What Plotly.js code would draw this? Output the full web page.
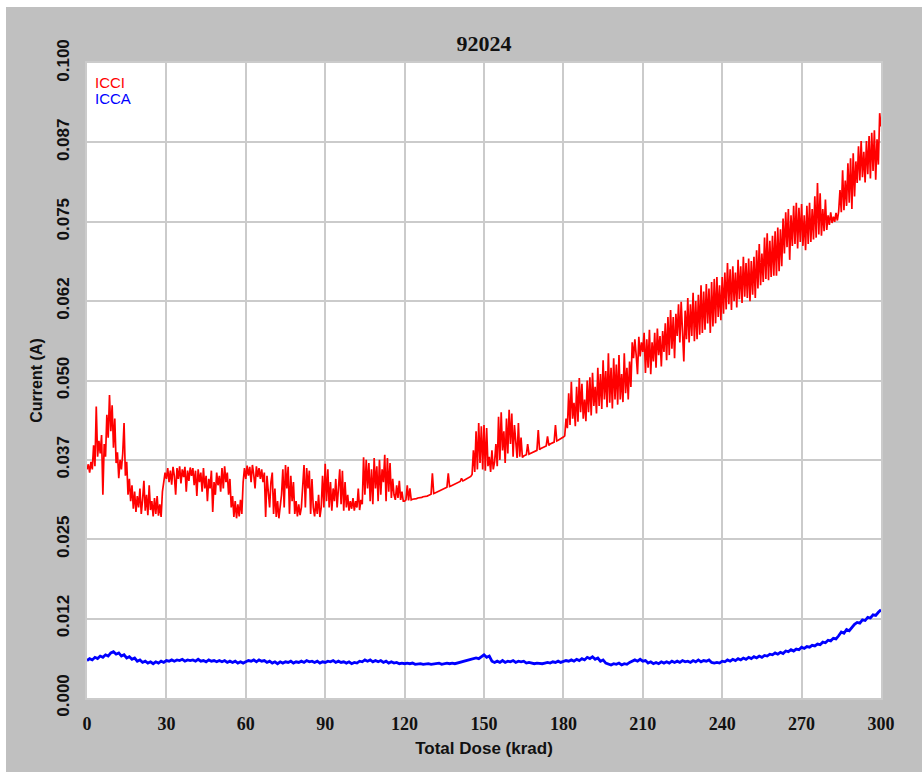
<!DOCTYPE html>
<html>
<head>
<meta charset="utf-8">
<script src="https://cdn.plot.ly/plotly-3.0.1.min.js"></script>
<style>
  html, body { margin: 0; padding: 0; background: #ffffff; width: 922px; height: 772px; overflow: hidden; }
  #chart { position: absolute; left: 6px; top: 7px; width: 916px; height: 765px; }
</style>
</head>
<body>
<div id="chart"></div>
<script>
// ICCI (A), sampled every 0.5 krad from 0 to 300
const icciStep = 0.5;
const icci = [
  0.0360, 0.0368, 0.0355, 0.0372, 0.0360, 0.0398, 0.0365, 0.0459, 0.0380, 0.0405,
  0.0385, 0.0414, 0.0320, 0.0400, 0.0380, 0.0446, 0.0410, 0.0477, 0.0420, 0.0461,
  0.0394, 0.0440, 0.0370, 0.0387, 0.0346, 0.0375, 0.0360, 0.0385, 0.0433, 0.0350,
  0.0372, 0.0320, 0.0345, 0.0310, 0.0335, 0.0298, 0.0325, 0.0293, 0.0318, 0.0300,
  0.0330, 0.0290, 0.0312, 0.0342, 0.0295, 0.0320, 0.0288, 0.0335, 0.0296, 0.0310,
  0.0286, 0.0315, 0.0290, 0.0318, 0.0287, 0.0305, 0.0285, 0.0325, 0.0340, 0.0355,
  0.0345, 0.0362, 0.0340, 0.0358, 0.0336, 0.0364, 0.0350, 0.0320, 0.0362, 0.0345,
  0.0365, 0.0338, 0.0360, 0.0348, 0.0364, 0.0325, 0.0358, 0.0342, 0.0363, 0.0350,
  0.0362, 0.0335, 0.0358, 0.0318, 0.0360, 0.0340, 0.0355, 0.0325, 0.0362, 0.0330,
  0.0350, 0.0310, 0.0345, 0.0330, 0.0358, 0.0293, 0.0340, 0.0320, 0.0355, 0.0335,
  0.0350, 0.0325, 0.0362, 0.0330, 0.0365, 0.0340, 0.0355, 0.0320, 0.0345, 0.0300,
  0.0318, 0.0285, 0.0310, 0.0283, 0.0305, 0.0286, 0.0312, 0.0290, 0.0340, 0.0362,
  0.0345, 0.0366, 0.0350, 0.0364, 0.0340, 0.0367, 0.0352, 0.0330, 0.0365, 0.0348,
  0.0362, 0.0345, 0.0360, 0.0340, 0.0355, 0.0285, 0.0350, 0.0320, 0.0300, 0.0340,
  0.0355, 0.0290, 0.0330, 0.0285, 0.0310, 0.0283, 0.0300, 0.0320, 0.0360, 0.0300,
  0.0367, 0.0330, 0.0364, 0.0290, 0.0350, 0.0310, 0.0340, 0.0290, 0.0310, 0.0286,
  0.0305, 0.0288, 0.0300, 0.0330, 0.0367, 0.0300, 0.0362, 0.0330, 0.0358, 0.0290,
  0.0345, 0.0300, 0.0286, 0.0310, 0.0290, 0.0320, 0.0285, 0.0300, 0.0350, 0.0300,
  0.0369, 0.0310, 0.0360, 0.0300, 0.0340, 0.0295, 0.0330, 0.0310, 0.0345, 0.0300,
  0.0325, 0.0360, 0.0305, 0.0358, 0.0295, 0.0340, 0.0300, 0.0320, 0.0295, 0.0310,
  0.0298, 0.0315, 0.0295, 0.0310, 0.0300, 0.0330, 0.0296, 0.0312, 0.0305, 0.0379,
  0.0320, 0.0375, 0.0330, 0.0370, 0.0310, 0.0360, 0.0305, 0.0378, 0.0330, 0.0365,
  0.0310, 0.0375, 0.0320, 0.0360, 0.0340, 0.0383, 0.0310, 0.0378, 0.0325, 0.0370,
  0.0315, 0.0345, 0.0320, 0.0312, 0.0335, 0.0315, 0.0342, 0.0312, 0.0325, 0.0310,
  0.0310, 0.0312, 0.0335, 0.0311, 0.0330, 0.0312, 0.0313, 0.0313, 0.0314, 0.0314,
  0.0315, 0.0315, 0.0316, 0.0316, 0.0317, 0.0317, 0.0318, 0.0318, 0.0319, 0.0320,
  0.0321, 0.0354, 0.0322, 0.0323, 0.0324, 0.0325, 0.0326, 0.0327, 0.0328, 0.0329,
  0.0330, 0.0331, 0.0332, 0.0354, 0.0333, 0.0334, 0.0335, 0.0336, 0.0337, 0.0338,
  0.0339, 0.0340, 0.0341, 0.0346, 0.0342, 0.0343, 0.0344, 0.0345, 0.0346, 0.0348,
  0.0349, 0.0352, 0.0390, 0.0356, 0.0420, 0.0360, 0.0433, 0.0370, 0.0428, 0.0360,
  0.0430, 0.0358, 0.0425, 0.0365, 0.0380, 0.0356, 0.0390, 0.0360, 0.0372, 0.0400,
  0.0365, 0.0443, 0.0375, 0.0450, 0.0390, 0.0420, 0.0370, 0.0440, 0.0385, 0.0454,
  0.0400, 0.0448, 0.0380, 0.0430, 0.0395, 0.0378, 0.0433, 0.0380, 0.0410, 0.0379,
  0.0381, 0.0382, 0.0383, 0.0400, 0.0384, 0.0385, 0.0386, 0.0387, 0.0388, 0.0389,
  0.0390, 0.0422, 0.0391, 0.0393, 0.0394, 0.0395, 0.0396, 0.0397, 0.0412, 0.0398,
  0.0400, 0.0401, 0.0402, 0.0403, 0.0430, 0.0405, 0.0406, 0.0407, 0.0409, 0.0410,
  0.0411, 0.0413, 0.0440, 0.0425, 0.0480, 0.0430, 0.0498, 0.0440, 0.0465, 0.0428,
  0.0490, 0.0435, 0.0504, 0.0450, 0.0495, 0.0440, 0.0470, 0.0436, 0.0500, 0.0450,
  0.0505, 0.0445, 0.0512, 0.0460, 0.0490, 0.0448, 0.0520, 0.0460, 0.0510, 0.0455,
  0.0532, 0.0470, 0.0515, 0.0458, 0.0543, 0.0465, 0.0520, 0.0456, 0.0535, 0.0470,
  0.0525, 0.0462, 0.0540, 0.0470, 0.0510, 0.0466, 0.0543, 0.0480, 0.0520, 0.0470,
  0.0530, 0.0490, 0.0560, 0.0535, 0.0565, 0.0540, 0.0510, 0.0569, 0.0538, 0.0560,
  0.0545, 0.0575, 0.0512, 0.0565, 0.0520, 0.0580, 0.0510, 0.0560, 0.0530, 0.0575,
  0.0520, 0.0582, 0.0540, 0.0570, 0.0522, 0.0578, 0.0545, 0.0590, 0.0532, 0.0600,
  0.0540, 0.0611, 0.0550, 0.0600, 0.0535, 0.0605, 0.0570, 0.0620, 0.0560, 0.0624,
  0.0575, 0.0530, 0.0610, 0.0565, 0.0630, 0.0560, 0.0620, 0.0570, 0.0638, 0.0562,
  0.0625, 0.0565, 0.0635, 0.0572, 0.0650, 0.0575, 0.0640, 0.0580, 0.0652, 0.0590,
  0.0645, 0.0575, 0.0655, 0.0585, 0.0660, 0.0590, 0.0663, 0.0600, 0.0650, 0.0595,
  0.0663, 0.0605, 0.0670, 0.0612, 0.0685, 0.0620, 0.0675, 0.0611, 0.0680, 0.0625,
  0.0670, 0.0615, 0.0690, 0.0628, 0.0680, 0.0622, 0.0695, 0.0632, 0.0685, 0.0630,
  0.0692, 0.0625, 0.0688, 0.0635, 0.0695, 0.0630, 0.0705, 0.0645, 0.0715, 0.0650,
  0.0700, 0.0655, 0.0725, 0.0660, 0.0732, 0.0658, 0.0720, 0.0663, 0.0728, 0.0665,
  0.0735, 0.0665, 0.0741, 0.0672, 0.0738, 0.0680, 0.0755, 0.0700, 0.0765, 0.0710,
  0.0770, 0.0690, 0.0760, 0.0712, 0.0775, 0.0715, 0.0780, 0.0708, 0.0772, 0.0718,
  0.0778, 0.0712, 0.0760, 0.0705, 0.0775, 0.0715, 0.0780, 0.0718, 0.0770, 0.0722,
  0.0790, 0.0725, 0.0811, 0.0730, 0.0795, 0.0728, 0.0770, 0.0735, 0.0785, 0.0737,
  0.0760, 0.0745, 0.0765, 0.0748, 0.0758, 0.0750, 0.0764, 0.0752, 0.0766, 0.0800,
  0.0765, 0.0831, 0.0768, 0.0815, 0.0775, 0.0842, 0.0780, 0.0850, 0.0770, 0.0858,
  0.0790, 0.0845, 0.0811, 0.0869, 0.0815, 0.0877, 0.0820, 0.0860, 0.0812, 0.0877,
  0.0825, 0.0885, 0.0818, 0.0890, 0.0830, 0.0894, 0.0816, 0.0880, 0.0840, 0.0921,
  0.0900
];

// ICCA (A), sampled every 1 krad from 0 to 300
const iccaStep = 1;
const icca = [
  0.0059, 0.0062, 0.0060, 0.0064, 0.0062, 0.0066, 0.0064, 0.0068, 0.0066, 0.0071,
  0.0073, 0.0069, 0.0071, 0.0066, 0.0068, 0.0063, 0.0065, 0.0061, 0.0063, 0.0058,
  0.0060, 0.0056, 0.0058, 0.0055, 0.0057, 0.0054, 0.0057, 0.0055, 0.0058, 0.0056,
  0.0059, 0.0058, 0.0060, 0.0058, 0.0060, 0.0059, 0.0061, 0.0058, 0.0060, 0.0059,
  0.0060, 0.0058, 0.0061, 0.0058, 0.0059, 0.0057, 0.0060, 0.0058, 0.0059, 0.0057,
  0.0059, 0.0057, 0.0059, 0.0056, 0.0058, 0.0056, 0.0058, 0.0055, 0.0057, 0.0055,
  0.0057, 0.0059, 0.0058, 0.0060, 0.0057, 0.0060, 0.0058, 0.0059, 0.0056, 0.0058,
  0.0055, 0.0057, 0.0054, 0.0057, 0.0055, 0.0057, 0.0056, 0.0058, 0.0055, 0.0057,
  0.0056, 0.0058, 0.0056, 0.0059, 0.0057, 0.0058, 0.0056, 0.0058, 0.0055, 0.0057,
  0.0056, 0.0058, 0.0057, 0.0059, 0.0056, 0.0058, 0.0056, 0.0057, 0.0055, 0.0057,
  0.0054, 0.0056, 0.0055, 0.0058, 0.0057, 0.0060, 0.0058, 0.0060, 0.0057, 0.0059,
  0.0057, 0.0059, 0.0056, 0.0058, 0.0055, 0.0057, 0.0055, 0.0056, 0.0054, 0.0055,
  0.0054, 0.0055, 0.0054, 0.0055, 0.0053, 0.0054, 0.0054, 0.0053, 0.0054, 0.0054,
  0.0053, 0.0054, 0.0054, 0.0055, 0.0053, 0.0054, 0.0055, 0.0054, 0.0055, 0.0054,
  0.0055, 0.0056, 0.0057, 0.0058, 0.0059, 0.0060, 0.0061, 0.0063, 0.0062, 0.0065,
  0.0068, 0.0064, 0.0066, 0.0058, 0.0056, 0.0058, 0.0056, 0.0059, 0.0056, 0.0058,
  0.0057, 0.0059, 0.0056, 0.0058, 0.0057, 0.0058, 0.0055, 0.0056, 0.0055, 0.0054,
  0.0055, 0.0054, 0.0054, 0.0055, 0.0056, 0.0055, 0.0057, 0.0056, 0.0058, 0.0056,
  0.0057, 0.0059, 0.0058, 0.0060, 0.0058, 0.0061, 0.0059, 0.0062, 0.0060, 0.0064,
  0.0062, 0.0065, 0.0061, 0.0063, 0.0058, 0.0060, 0.0055, 0.0054, 0.0052, 0.0054,
  0.0053, 0.0055, 0.0052, 0.0054, 0.0053, 0.0056, 0.0058, 0.0060, 0.0058, 0.0061,
  0.0058, 0.0059, 0.0055, 0.0057, 0.0054, 0.0056, 0.0054, 0.0057, 0.0055, 0.0057,
  0.0055, 0.0058, 0.0056, 0.0058, 0.0056, 0.0059, 0.0057, 0.0058, 0.0056, 0.0059,
  0.0057, 0.0060, 0.0057, 0.0059, 0.0058, 0.0060, 0.0056, 0.0055, 0.0056, 0.0055,
  0.0058, 0.0057, 0.0060, 0.0058, 0.0061, 0.0059, 0.0062, 0.0060, 0.0063, 0.0061,
  0.0064, 0.0062, 0.0065, 0.0063, 0.0066, 0.0064, 0.0067, 0.0066, 0.0069, 0.0068,
  0.0071, 0.0069, 0.0072, 0.0070, 0.0074, 0.0073, 0.0076, 0.0074, 0.0077, 0.0076,
  0.0080, 0.0078, 0.0081, 0.0080, 0.0083, 0.0082, 0.0085, 0.0084, 0.0088, 0.0087,
  0.0091, 0.0090, 0.0094, 0.0093, 0.0098, 0.0104, 0.0102, 0.0108, 0.0106, 0.0112,
  0.0116, 0.0119, 0.0118, 0.0123, 0.0122, 0.0127, 0.0126, 0.0131, 0.0130, 0.0135,
  0.0139
];

const xTickVals = [0, 30, 60, 90, 120, 150, 180, 210, 240, 270, 300];
const yTickVals = [0, 0.0125, 0.025, 0.0375, 0.05, 0.0625, 0.075, 0.0875, 0.1];
const yTickText = ['0.000', '0.012', '0.025', '0.037', '0.050', '0.062', '0.075', '0.087', '0.100'];

const icciX = icci.map((_, i) => i * icciStep);
const iccaX = icca.map((_, i) => i * iccaStep);

const traces = [
  { x: icciX, y: icci, type: 'scatter', mode: 'lines', name: 'ICCI',
    line: { color: '#ff0000', width: 1.7 }, hoverinfo: 'x+y' },
  { x: iccaX, y: icca, type: 'scatter', mode: 'lines', name: 'ICCA',
    line: { color: '#0000ff', width: 2.8 }, hoverinfo: 'x+y' }
];

const gridCol = '#cbcbcb';
const layout = {
  width: 916, height: 765,
  paper_bgcolor: '#c0c0c0',
  plot_bgcolor: '#ffffff',
  margin: { l: 81, r: 41, t: 56, b: 74 },
  showlegend: false,
  title: {
    text: '<b>92024</b>',
    font: { family: 'Liberation Serif, Times New Roman, serif', size: 22, color: '#111111' },
    x: 0.5, xref: 'paper', xanchor: 'center',
    y: 1 - 36 / 765, yref: 'container', yanchor: 'middle'
  },
  xaxis: {
    range: [0, 300],
    tickvals: xTickVals,
    ticktext: xTickVals.map(String),
    tickfont: { family: 'Liberation Serif, Times New Roman, serif', size: 18, color: '#111111', weight: 'bold' },
    showgrid: true, gridcolor: gridCol, gridwidth: 2,
    zeroline: false,
    showline: true, linecolor: gridCol, linewidth: 2, mirror: true,
    ticks: '', ticklabelstandoff: 8,
    title: { text: '<b>Total Dose (krad)</b>', standoff: 10,
      font: { family: 'Liberation Sans, Arial, sans-serif', size: 17, color: '#111111' } },
    fixedrange: true
  },
  yaxis: {
    range: [0, 0.1],
    tickvals: yTickVals,
    ticktext: yTickText,
    tickangle: -90,
    tickfont: { family: 'Liberation Sans, Arial, sans-serif', size: 17, color: '#111111', weight: 'bold' },
    showgrid: true, gridcolor: gridCol, gridwidth: 2,
    zeroline: false,
    showline: true, linecolor: gridCol, linewidth: 2, mirror: true,
    ticks: '', ticklabelstandoff: 9,
    title: { text: '<b>Current (A)</b>', standoff: 8,
      font: { family: 'Liberation Sans, Arial, sans-serif', size: 16, color: '#111111' } },
    fixedrange: true
  },
  annotations: [
    { xref: 'paper', yref: 'paper', x: 0.007, y: 0.986, xanchor: 'left', yanchor: 'top',
      text: 'ICCI', showarrow: false,
      font: { family: 'Liberation Sans, Arial, sans-serif', size: 15, color: '#ff0000' } },
    { xref: 'paper', yref: 'paper', x: 0.007, y: 0.960, xanchor: 'left', yanchor: 'top',
      text: 'ICCA', showarrow: false,
      font: { family: 'Liberation Sans, Arial, sans-serif', size: 15, color: '#0000ff' } }
  ]
};

Plotly.newPlot('chart', traces, layout, { displayModeBar: false, staticPlot: true });
</script>
</body>
</html>
